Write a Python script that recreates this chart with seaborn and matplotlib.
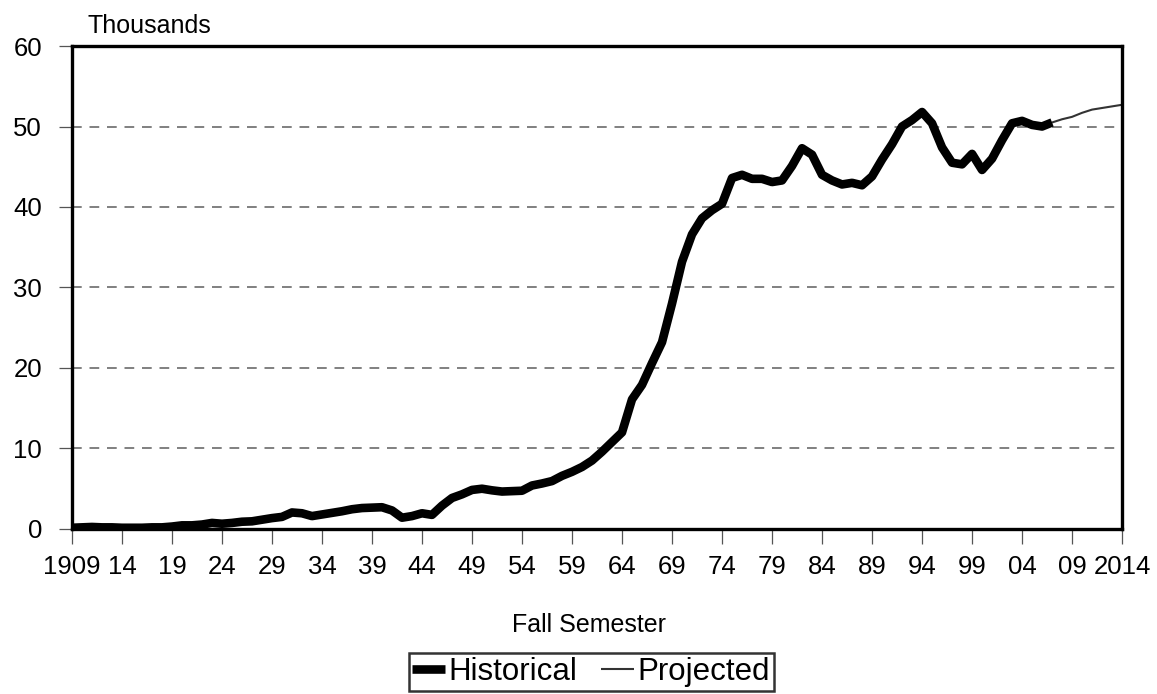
import pandas as pd
import matplotlib.pyplot as plt
from matplotlib.lines import Line2D
import seaborn as sns

# Enrollment, thousands (fall semester)
hist_years = list(range(1909, 2008))
hist_values = [
    0.15, 0.2, 0.25, 0.2, 0.2, 0.15, 0.15, 0.15, 0.2, 0.2,        # 1909-1918
    0.3, 0.45, 0.45, 0.55, 0.75, 0.65, 0.75, 0.9, 0.95, 1.15,     # 1919-1928
    1.35, 1.5, 2.05, 1.95, 1.6, 1.8, 2.0, 2.2, 2.45, 2.6,         # 1929-1938
    2.65, 2.7, 2.3, 1.4, 1.6, 1.95, 1.75, 2.9, 3.85, 4.3,         # 1939-1948
    4.85, 5.0, 4.8, 4.65, 4.7, 4.75, 5.4, 5.65, 5.95, 6.6,        # 1949-1958
    7.1, 7.7, 8.5, 9.6, 10.8, 12.0, 16.1, 17.9, 20.6, 23.2,       # 1959-1968
    28.0, 33.2, 36.6, 38.6, 39.6, 40.4, 43.6, 44.0, 43.5, 43.5,   # 1969-1978
    43.1, 43.3, 45.1, 47.3, 46.5, 44.0, 43.3, 42.8, 43.0, 42.7,   # 1979-1988
    43.8, 45.9, 47.8, 50.0, 50.8, 51.8, 50.4, 47.4, 45.5, 45.3,   # 1989-1998
    46.6, 44.6, 46.0, 48.3, 50.4, 50.7, 50.2, 50.0, 50.5,         # 1999-2007
]
proj_years = list(range(2007, 2015))
proj_values = [50.5, 50.9, 51.2, 51.7, 52.1, 52.3, 52.5, 52.7]

tick_years = list(range(1909, 2015, 5))
tick_labels = ["1909"] + [str(y)[2:] for y in tick_years[1:-1]] + ["2014"]

hist = pd.DataFrame({"year": hist_years, "value": hist_values})
proj = pd.DataFrame({"year": proj_years, "value": proj_values})

sns.set_style("white")
plt.rcParams["font.family"] = ["Liberation Sans", "DejaVu Sans"]
plt.rcParams["text.color"] = "black"
plt.rcParams["xtick.color"] = "black"
plt.rcParams["ytick.color"] = "black"

fig = plt.figure(figsize=(11.57, 6.94), dpi=100)
ax = fig.add_axes([0.0622, 0.2378, 0.9076, 0.6959])

sns.lineplot(data=proj, x="year", y="value", ax=ax, color="#333333", linewidth=1.5)
sns.lineplot(data=hist, x="year", y="value", ax=ax, color="black", linewidth=6.2,
             solid_joinstyle="round", solid_capstyle="butt")

ax.set_xlim(1909, 2014)
ax.set_ylim(0, 60)
ax.set_yticks(range(0, 61, 10))
ax.set_xticks(tick_years)
ax.set_xticklabels(tick_labels)
ax.set_xlabel("")
ax.set_ylabel("")

# dashed gridlines
for v in range(10, 60, 10):
    ax.axhline(v, color="#808080", linewidth=1.4, linestyle=(0, (5, 4)), zorder=0)

for s in ax.spines.values():
    s.set_visible(True)
    s.set_color("black")
    s.set_linewidth(2.4)

ax.tick_params(axis="y", direction="out", length=9.5, width=0.9, color="#555555",
               pad=12, labelsize=18.5, left=True, labelcolor="black")
ax.tick_params(axis="x", direction="out", length=11, width=0.9, color="#555555",
               pad=8, labelsize=18.5, bottom=True, labelcolor="black")

fig.text(0.076, 0.963, "Thousands", fontsize=18, ha="left", va="center")
fig.text(0.509, 0.0994, "Fall Semester", fontsize=18, ha="center", va="center")

handles = [Line2D([], [], color="black", linewidth=6.2, solid_capstyle="butt"),
           Line2D([], [], color="#333333", linewidth=1.5, solid_capstyle="butt")]
leg = fig.legend(handles, ["Historical", "Projected"], loc="center",
                 bbox_to_anchor=(0.511, 0.0317), ncol=2, fontsize=22.5,
                 frameon=True, fancybox=False, handlelength=1.05,
                 handletextpad=0.12, columnspacing=0.75, borderpad=0.12,
                 borderaxespad=0)
leg.get_frame().set_edgecolor("black")
leg.get_frame().set_linewidth(1.8)

fig.savefig("out.png", dpi=100)
